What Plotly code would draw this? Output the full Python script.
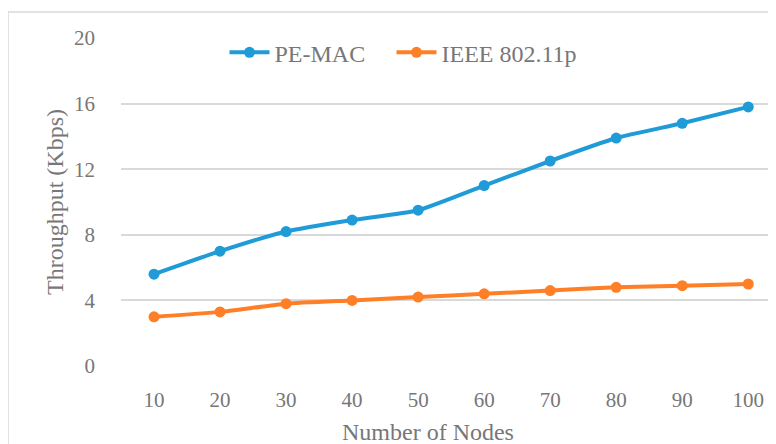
import plotly.graph_objects as go

nodes = ["10", "20", "30", "40", "50", "60", "70", "80", "90", "100"]
pe_mac = [5.6, 7.0, 8.2, 8.9, 9.5, 11.0, 12.5, 13.9, 14.8, 15.8]
ieee = [3.0, 3.3, 3.8, 4.0, 4.2, 4.4, 4.6, 4.8, 4.9, 5.0]
y_ticks = [0, 4, 8, 12, 16, 20]

FONT = "Liberation Serif"
GRAY = "#777777"
idx = list(range(len(nodes)))

fig = go.Figure()
fig.add_trace(go.Scatter(x=idx, y=pe_mac, name="PE-MAC", mode="lines+markers",
                         line=dict(color="#1F9BD7", width=4, shape="spline", smoothing=0.5),
                         marker=dict(size=11, color="#1F9BD7"), legend="legend"))
fig.add_trace(go.Scatter(x=idx, y=ieee, name="IEEE 802.11p", mode="lines+markers",
                         line=dict(color="#FF7F27", width=4, shape="spline", smoothing=0.5),
                         marker=dict(size=11, color="#FF7F27"), legend="legend2"))

leg_common = dict(orientation="h", y=0.955, xanchor="left", yanchor="middle",
                  font=dict(family=FONT, size=24, color=GRAY), bgcolor="rgba(0,0,0,0)",
                  itemwidth=40)

fig.update_layout(
    width=768, height=436,
    margin=dict(l=113, r=0, t=30, b=78, autoexpand=False),
    paper_bgcolor="white", plot_bgcolor="white",
    font=dict(family=FONT, size=21, color=GRAY),
    showlegend=True,
    legend=dict(x=0.158, **leg_common),
    legend2=dict(x=0.413, **leg_common),
    xaxis=dict(range=[-0.5, 9.42], tickmode="array", tickvals=idx, ticktext=nodes,
               showgrid=False, zeroline=False, showline=False, ticks="", automargin=False,
               ticklabelstandoff=19,
               tickfont=dict(family=FONT, size=21, color=GRAY)),
    yaxis=dict(range=[0, 20], tickmode="array", tickvals=y_ticks,
               showgrid=True, gridcolor="#D9D9D9", gridwidth=1.5, zeroline=False, showline=False,
               ticks="", ticklabelstandoff=25, automargin=False,
               tickfont=dict(family=FONT, size=21, color=GRAY)),
)

fig.add_annotation(text="Number of Nodes", xref="paper", yref="paper",
                   x=0.469, y=-0.201, xanchor="center", yanchor="middle", showarrow=False,
                   font=dict(family=FONT, size=24, color=GRAY))
fig.add_annotation(text="Throughput (Kbps)", xref="paper", yref="paper", textangle=-90,
                   x=-0.1008, y=0.5, xanchor="center", yanchor="middle", showarrow=False,
                   font=dict(family=FONT, size=24, color=GRAY))

fig.add_shape(type="rect", xref="paper", yref="paper",
              x0=-113/655, x1=1.1, y0=-0.4, y1=1 + 26/328,
              line=dict(color="#D9D9D9", width=1.5), fillcolor="rgba(0,0,0,0)", layer="below")

fig.write_html("out.html")
